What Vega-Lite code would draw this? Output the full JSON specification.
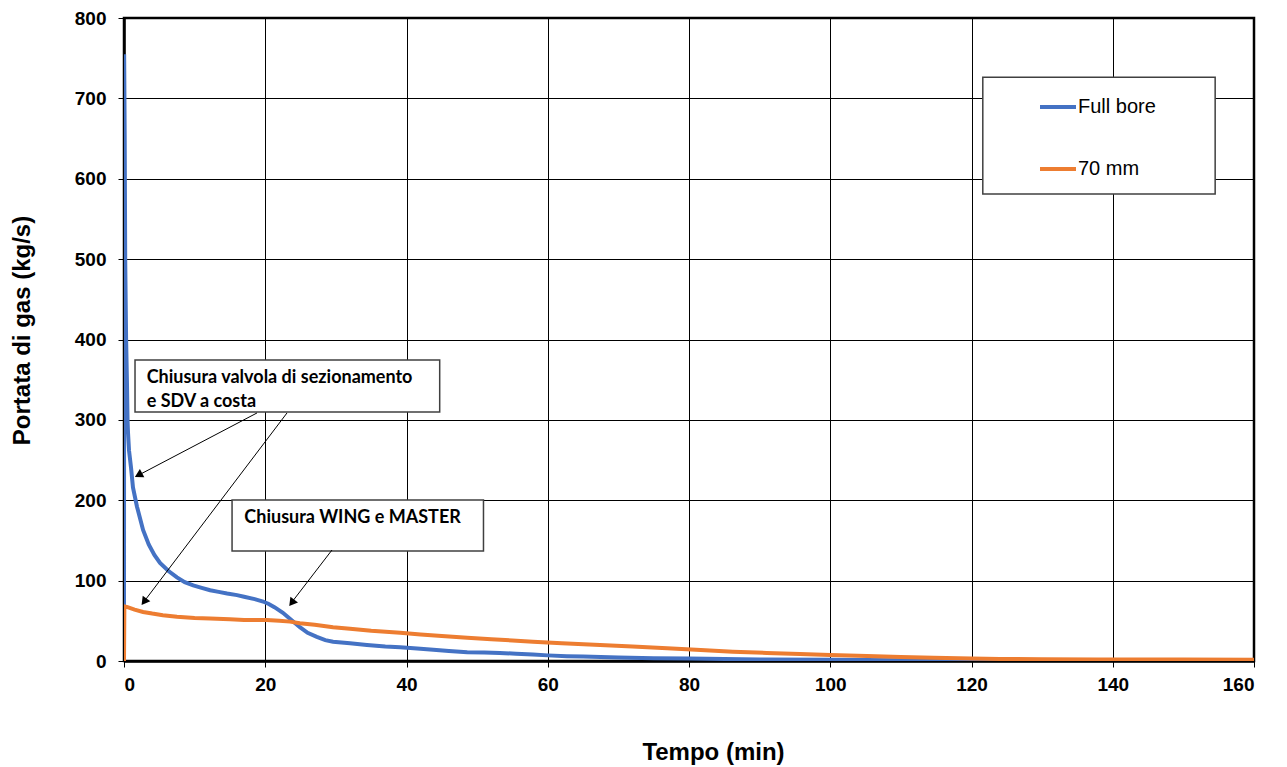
{
  "$schema": "https://vega.github.io/schema/vega-lite/v6.json",
  "width": 1130,
  "height": 643,
  "autosize": {"type": "none"},
  "padding": {"left": 124, "top": 18, "right": 33, "bottom": 106},
  "background": "white",
  "config": {
    "view": {"stroke": "black", "strokeWidth": 2.5},
    "axis": {
      "labelFont": "Liberation Sans", "labelFontWeight": "bold", "labelFontSize": 19, "labelColor": "black",
      "titleFont": "Liberation Sans", "titleFontWeight": "bold", "titleFontSize": 24, "titleColor": "black",
      "gridColor": "black", "gridWidth": 1, "gridOpacity": 1,
      "tickColor": "black", "tickSize": 6, "tickWidth": 1,
      "domainColor": "black", "domainWidth": 2.5
    }
  },
  "data": {"values": [
    {"t": 0, "q": 0, "s": "Full bore"},
    {"t": 0.02, "q": 755, "s": "Full bore"},
    {"t": 0.1, "q": 650, "s": "Full bore"},
    {"t": 0.17, "q": 500, "s": "Full bore"},
    {"t": 0.3, "q": 400, "s": "Full bore"},
    {"t": 0.42, "q": 346, "s": "Full bore"},
    {"t": 0.5, "q": 300, "s": "Full bore"},
    {"t": 0.57, "q": 284, "s": "Full bore"},
    {"t": 0.71, "q": 262, "s": "Full bore"},
    {"t": 1.0, "q": 240, "s": "Full bore"},
    {"t": 1.27, "q": 216, "s": "Full bore"},
    {"t": 1.84, "q": 192, "s": "Full bore"},
    {"t": 2.7, "q": 163, "s": "Full bore"},
    {"t": 3.5, "q": 145, "s": "Full bore"},
    {"t": 4.3, "q": 132, "s": "Full bore"},
    {"t": 5.1, "q": 122, "s": "Full bore"},
    {"t": 6.3, "q": 112, "s": "Full bore"},
    {"t": 7.5, "q": 104, "s": "Full bore"},
    {"t": 8.6, "q": 98, "s": "Full bore"},
    {"t": 9.8, "q": 94, "s": "Full bore"},
    {"t": 11, "q": 91, "s": "Full bore"},
    {"t": 12.2, "q": 88, "s": "Full bore"},
    {"t": 13.4, "q": 86, "s": "Full bore"},
    {"t": 14.6, "q": 84, "s": "Full bore"},
    {"t": 16, "q": 82, "s": "Full bore"},
    {"t": 17, "q": 80, "s": "Full bore"},
    {"t": 18.5, "q": 77, "s": "Full bore"},
    {"t": 19.7, "q": 74, "s": "Full bore"},
    {"t": 20.5, "q": 71, "s": "Full bore"},
    {"t": 21.3, "q": 67, "s": "Full bore"},
    {"t": 22.5, "q": 60, "s": "Full bore"},
    {"t": 23.7, "q": 51, "s": "Full bore"},
    {"t": 24.9, "q": 42, "s": "Full bore"},
    {"t": 26, "q": 35, "s": "Full bore"},
    {"t": 27.3, "q": 30, "s": "Full bore"},
    {"t": 28.5, "q": 26, "s": "Full bore"},
    {"t": 29.6, "q": 24, "s": "Full bore"},
    {"t": 32, "q": 22, "s": "Full bore"},
    {"t": 34.4, "q": 20, "s": "Full bore"},
    {"t": 37, "q": 18, "s": "Full bore"},
    {"t": 39.1, "q": 17, "s": "Full bore"},
    {"t": 41.5, "q": 15.5, "s": "Full bore"},
    {"t": 43.8, "q": 14, "s": "Full bore"},
    {"t": 46, "q": 12.5, "s": "Full bore"},
    {"t": 48.6, "q": 11, "s": "Full bore"},
    {"t": 51, "q": 10.5, "s": "Full bore"},
    {"t": 53.2, "q": 10, "s": "Full bore"},
    {"t": 55.5, "q": 9, "s": "Full bore"},
    {"t": 57.9, "q": 8, "s": "Full bore"},
    {"t": 60, "q": 7, "s": "Full bore"},
    {"t": 62.7, "q": 6, "s": "Full bore"},
    {"t": 65, "q": 5.5, "s": "Full bore"},
    {"t": 70, "q": 4.5, "s": "Full bore"},
    {"t": 75, "q": 3.5, "s": "Full bore"},
    {"t": 80, "q": 3, "s": "Full bore"},
    {"t": 90, "q": 2, "s": "Full bore"},
    {"t": 100, "q": 1.5, "s": "Full bore"},
    {"t": 110, "q": 1, "s": "Full bore"},
    {"t": 130, "q": 0.5, "s": "Full bore"},
    {"t": 160, "q": 0.3, "s": "Full bore"},
    {"t": 0, "q": 0, "s": "70 mm"},
    {"t": 0.05, "q": 68, "s": "70 mm"},
    {"t": 0.5, "q": 67, "s": "70 mm"},
    {"t": 1.5, "q": 64, "s": "70 mm"},
    {"t": 2.7, "q": 61, "s": "70 mm"},
    {"t": 4, "q": 59, "s": "70 mm"},
    {"t": 5.5, "q": 57, "s": "70 mm"},
    {"t": 7.5, "q": 55, "s": "70 mm"},
    {"t": 10, "q": 53.5, "s": "70 mm"},
    {"t": 12.2, "q": 53, "s": "70 mm"},
    {"t": 15, "q": 52, "s": "70 mm"},
    {"t": 17, "q": 51, "s": "70 mm"},
    {"t": 20.2, "q": 51, "s": "70 mm"},
    {"t": 22, "q": 50, "s": "70 mm"},
    {"t": 23.5, "q": 49, "s": "70 mm"},
    {"t": 24.9, "q": 47, "s": "70 mm"},
    {"t": 27, "q": 45, "s": "70 mm"},
    {"t": 29.6, "q": 42, "s": "70 mm"},
    {"t": 32, "q": 40, "s": "70 mm"},
    {"t": 35, "q": 37.5, "s": "70 mm"},
    {"t": 39.1, "q": 35, "s": "70 mm"},
    {"t": 42, "q": 33, "s": "70 mm"},
    {"t": 45, "q": 31, "s": "70 mm"},
    {"t": 48.6, "q": 29, "s": "70 mm"},
    {"t": 52, "q": 27, "s": "70 mm"},
    {"t": 55, "q": 25.5, "s": "70 mm"},
    {"t": 57.9, "q": 24, "s": "70 mm"},
    {"t": 62, "q": 22, "s": "70 mm"},
    {"t": 67.4, "q": 20, "s": "70 mm"},
    {"t": 72, "q": 18, "s": "70 mm"},
    {"t": 76.9, "q": 16, "s": "70 mm"},
    {"t": 81, "q": 14, "s": "70 mm"},
    {"t": 86.2, "q": 11.5, "s": "70 mm"},
    {"t": 91, "q": 10, "s": "70 mm"},
    {"t": 95.7, "q": 8.7, "s": "70 mm"},
    {"t": 100, "q": 7.5, "s": "70 mm"},
    {"t": 105.2, "q": 6.2, "s": "70 mm"},
    {"t": 110, "q": 5, "s": "70 mm"},
    {"t": 114.6, "q": 4, "s": "70 mm"},
    {"t": 120, "q": 3, "s": "70 mm"},
    {"t": 124, "q": 2.5, "s": "70 mm"},
    {"t": 130, "q": 2.2, "s": "70 mm"},
    {"t": 138, "q": 2, "s": "70 mm"},
    {"t": 150, "q": 1.8, "s": "70 mm"},
    {"t": 160, "q": 1.7, "s": "70 mm"}
  ]},
  "layer": [
    {
      "mark": {"type": "line", "strokeWidth": 4, "clip": true},
      "encoding": {
        "x": {"field": "t", "type": "quantitative",
              "scale": {"domain": [0, 160], "nice": false, "zero": true},
              "axis": {"title": "Tempo (min)", "values": [0, 20, 40, 60, 80, 100, 120, 140, 160], "labelPadding": 8, "titlePadding": 46, "titleX": 589, "grid": true}},
        "y": {"field": "q", "type": "quantitative",
              "scale": {"domain": [0, 800], "nice": false},
              "axis": {"title": "Portata di gas (kg/s)", "values": [0, 100, 200, 300, 400, 500, 600, 700, 800], "labelPadding": 12, "titlePadding": 40, "titleY": 312, "grid": true}},
        "color": {"field": "s", "type": "nominal",
                  "scale": {"domain": ["Full bore", "70 mm"], "range": ["#4472C4", "#ED7D31"]},
                  "legend": {"title": null, "orient": "none", "legendX": 914, "legendY": 69,
                             "symbolType": "stroke", "symbolSize": 1296, "symbolStrokeWidth": 4,
                             "labelFont": "Liberation Sans", "labelFontSize": 20, "labelColor": "black",
                             "labelOffset": 0, "rowPadding": 32, "padding": 0}},
        "order": {"field": "t", "type": "quantitative"}
      }
    },
    {
      "data": {"values": [{}]},
      "mark": {"type": "rect", "fill": "white", "stroke": "#404040", "strokeWidth": 1.5},
      "encoding": {"x": {"datum": 121.6}, "x2": {"datum": 154.5}, "y": {"datum": 726.4}, "y2": {"datum": 580.9}}
    },
    {
      "data": {"values": [{}]},
      "mark": {"type": "rect", "fill": "white", "stroke": "#404040", "strokeWidth": 1.5},
      "encoding": {"x": {"datum": 1.56}, "x2": {"datum": 44.7}, "y": {"datum": 374.4}, "y2": {"datum": 309.7}}
    },
    {
      "data": {"values": [{}]},
      "mark": {"type": "rect", "fill": "white", "stroke": "#404040", "strokeWidth": 1.5},
      "encoding": {"x": {"datum": 15.3}, "x2": {"datum": 50.9}, "y": {"datum": 200.2}, "y2": {"datum": 136.8}}
    },
    {
      "data": {"values": [{}]},
      "mark": {"type": "text", "font": "Lato", "fontWeight": "bold", "fontSize": 18, "align": "left", "baseline": "alphabetic", "lineHeight": 24, "color": "black",
               "text": ["Chiusura valvola di sezionamento", "e SDV a costa"]},
      "encoding": {"x": {"datum": 3.21}, "y": {"datum": 345.9}}
    },
    {
      "data": {"values": [{}]},
      "mark": {"type": "text", "font": "Lato", "fontWeight": "bold", "fontSize": 18, "align": "left", "baseline": "alphabetic", "color": "black",
               "text": "Chiusura WING e MASTER"},
      "encoding": {"x": {"datum": 17.04}, "y": {"datum": 171.3}}
    },
    {
      "data": {"values": [{}]},
      "mark": {"type": "rule", "color": "black", "strokeWidth": 1},
      "encoding": {"x": {"datum": 18.83}, "y": {"datum": 308.6}, "x2": {"datum": 1.9}, "y2": {"datum": 230.5}}
    },
    {
      "data": {"values": [{}]},
      "mark": {"type": "rule", "color": "black", "strokeWidth": 1},
      "encoding": {"x": {"datum": 23.08}, "y": {"datum": 308.6}, "x2": {"datum": 2.8}, "y2": {"datum": 73.5}}
    },
    {
      "data": {"values": [{}]},
      "mark": {"type": "rule", "color": "black", "strokeWidth": 1},
      "encoding": {"x": {"datum": 29.45}, "y": {"datum": 138.1}, "x2": {"datum": 23.7}, "y2": {"datum": 72.4}}
    },
    {
      "data": {"values": [{}]},
      "mark": {"type": "point", "shape": "triangle-up", "filled": true, "color": "black", "opacity": 1, "size": 90, "angle": 242},
      "encoding": {"x": {"datum": 2.05}, "y": {"datum": 231.3}}
    },
    {
      "data": {"values": [{}]},
      "mark": {"type": "point", "shape": "triangle-up", "filled": true, "color": "black", "opacity": 1, "size": 90, "angle": 217},
      "encoding": {"x": {"datum": 2.84}, "y": {"datum": 73.7}}
    },
    {
      "data": {"values": [{}]},
      "mark": {"type": "point", "shape": "triangle-up", "filled": true, "color": "black", "opacity": 1, "size": 90, "angle": 217},
      "encoding": {"x": {"datum": 23.75}, "y": {"datum": 72.4}}
    }
  ]
}
